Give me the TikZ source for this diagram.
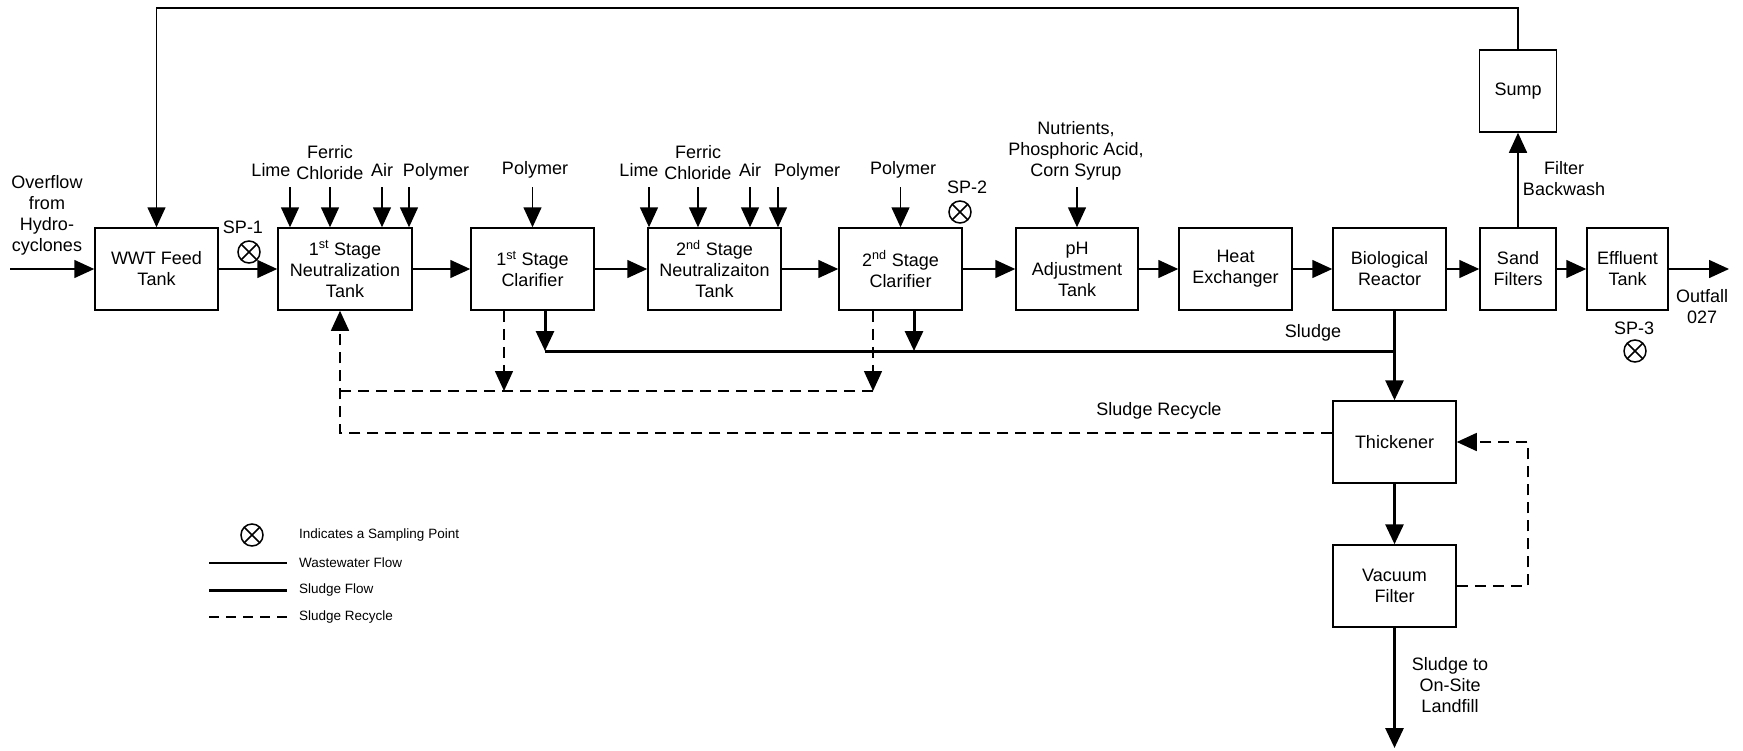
\documentclass[tikz,border=0pt]{standalone}
\usepackage{fontspec}
\setmainfont{Liberation Sans}
\usetikzlibrary{arrows.meta}
\begin{document}
\begin{tikzpicture}[x=1pt,y=-1pt,
 box/.style={draw, line width=1.5pt, minimum height=82pt, inner sep=0pt, align=center, font=\fontsize{18}{21}\selectfont},
 lbl/.style={inner sep=0pt, align=center, font=\fontsize{18}{21}\selectfont},
 leg/.style={inner sep=0pt, anchor=west, font=\fontsize{13.5}{15}\selectfont},
 wline/.style={line width=1.5pt},
 sline/.style={line width=3pt},
 rline/.style={line width=1.5pt, dash pattern=on 11pt off 7pt},
 arr/.style={-{Triangle[length=20pt,width=18pt]}},
 spsym/.style={draw, circle, line width=1.5pt, minimum size=22pt, inner sep=0pt,
   path picture={\draw[line width=1.5pt] (path picture bounding box.north west) -- (path picture bounding box.south east)
     (path picture bounding box.north east) -- (path picture bounding box.south west);}}
]
\useasboundingbox (0,0) rectangle (1743,750);

% ---- boxes
\node[box, minimum width=123pt] (wwt) at (156.5,269) {WWT Feed\\Tank};
\node[box, minimum width=134pt] (n1) at (345,269) {1\textsuperscript{st} Stage\\Neutralization\\Tank};
\node[box, minimum width=123pt] (c1) at (532.5,269) {1\textsuperscript{st} Stage\\Clarifier};
\node[box, minimum width=133pt] (n2) at (714.5,269) {2\textsuperscript{nd} Stage\\Neutralizaiton\\Tank};
\node[box, minimum width=123pt] (c2) at (900.5,269) {2\textsuperscript{nd} Stage\\Clarifier};
\node[box, minimum width=122pt] (ph) at (1077,269) {pH\\Adjustment\\Tank};
\node[box, minimum width=113pt] (hx) at (1235.5,269) {Heat\\Exchanger};
\node[box, minimum width=113pt] (bio) at (1389.5,269) {Biological\\Reactor};
\node[box, minimum width=76pt] (sand) at (1518,269) {Sand\\Filters};
\node[box, minimum width=81pt] (eff) at (1627.5,269) {Effluent\\Tank};
\node[box, minimum width=77pt] (sump) at (1518,91) {Sump};
\node[box, minimum width=123pt] (thk) at (1394.5,442) {Thickener};
\node[box, minimum width=123pt] (vac) at (1394.5,586) {Vacuum\\Filter};

% ---- main wastewater flow
\coordinate (in) at (10,269);
\coordinate (out) at (1729,269);
\draw[wline,arr] (in) -- (wwt.west);
\draw[wline,arr] (wwt.east) -- (n1.west);
\draw[wline,arr] (n1.east) -- (c1.west);
\draw[wline,arr] (c1.east) -- (n2.west);
\draw[wline,arr] (n2.east) -- (c2.west);
\draw[wline,arr] (c2.east) -- (ph.west);
\draw[wline,arr] (ph.east) -- (hx.west);
\draw[wline,arr] (hx.east) -- (bio.west);
\draw[wline,arr] (bio.east) -- (sand.west);
\draw[wline,arr] (sand.east) -- (eff.west);
\draw[wline,arr] (eff.east) -- (out);
\draw[wline,arr] (sand.north) -- (sump.south);
\coordinate (topy) at (0,8);
\draw[wline,arr] (sump.north) -- (sump.north |- topy) -| (wwt.north);

% ---- chemical inputs
\node[lbl, anchor=base] (lime1) at (271,176) {Lime};
\node[lbl] (fc1) at (330,162.5) {Ferric\\Chloride};
\node[lbl, anchor=base] (air1) at (382,176) {Air};
\node[lbl, anchor=base] (pol1) at (436,176) {Polymer};
\coordinate (a11) at (290,187);
\coordinate (a12) at (330,187);
\coordinate (a13) at (382,187);
\coordinate (a14) at (409,187);
\foreach \c in {a11,a12,a13,a14} \draw[wline,arr] (\c) -- (\c |- n1.north);

\node[lbl, anchor=base] (pol2) at (535,174) {Polymer};
\coordinate (a21) at (532.5,187);
\draw[wline,arr] (a21) -- (c1.north);

\node[lbl, anchor=base] (lime3) at (639,176) {Lime};
\node[lbl] (fc3) at (698,162.5) {Ferric\\Chloride};
\node[lbl, anchor=base] (air3) at (750,176) {Air};
\node[lbl, anchor=base] (pol3) at (807,176) {Polymer};
\coordinate (a31) at (649,187);
\coordinate (a32) at (698,187);
\coordinate (a33) at (750,187);
\coordinate (a34) at (778,187);
\foreach \c in {a31,a32,a33,a34} \draw[wline,arr] (\c) -- (\c |- n2.north);

\node[lbl, anchor=base] (pol4) at (903,174) {Polymer};
\coordinate (a41) at (900.5,187);
\draw[wline,arr] (a41) -- (c2.north);

\node[lbl] (nut) at (1076,151) {Nutrients,\\Phosphoric Acid,\\Corn Syrup};
\coordinate (a51) at (1077,187);
\draw[wline,arr] (a51) -- (ph.north);

% ---- sampling points
\node[lbl] (sp1t) at (243,227) {SP-1};
\node[spsym] (sp1) at (249,252) {};
\node[lbl] (sp2t) at (967,187) {SP-2};
\node[spsym] (sp2) at (960,212) {};
\node[lbl] (sp3t) at (1634,328) {SP-3};
\node[spsym] (sp3) at (1635,351) {};

% ---- other labels
\node[lbl] (ovf) at (47,215.5) {Overflow\\from\\Hydro-\\cyclones};
\node[lbl] (fbw) at (1564,178.5) {Filter\\Backwash};
\node[lbl] (outf) at (1702,307) {Outfall\\027};
\node[lbl] (slg) at (1313,333) {Sludge};
\node[lbl] (slr) at (1159,411) {Sludge Recycle};
\node[lbl] (land) at (1450,685) {Sludge to\\On-Site\\Landfill};

% ---- sludge flow
\coordinate (s1) at (545,351);
\coordinate (s2) at (914,351);
\coordinate (s3) at (1394.5,351);
\coordinate (lf) at (1394.5,748);
\draw[sline,arr] (s1 |- c1.south) -- (s1);
\draw[sline,arr] (s2 |- c2.south) -- (s2);
\draw[sline] (s1) -- (s3);
\draw[sline,arr] (s3 |- bio.south) -- (thk.north);
\draw[sline,arr] (thk.south) -- (vac.north);
\draw[sline,arr] (vac.south) -- (lf);

% ---- sludge recycle
\coordinate (d1) at (504,391);
\coordinate (d2) at (873,391);
\coordinate (r0) at (340,391);
\coordinate (r1) at (340,433);
\coordinate (rr) at (1528,442);
\draw[rline,arr] (d1 |- c1.south) -- (d1);
\draw[rline,arr] (d2 |- c2.south) -- (d2);
\draw[rline] (d2) -- (r0);
\draw[rline,arr] (thk.west |- r1) -- (r1) -- (r1 |- n1.south);
\draw[rline,arr] (vac.east) -| (rr) -- (thk.east);

% ---- legend
\node[spsym] (lg1) at (252,535) {};
\node[leg] (lt1) at (299,535) {Indicates a Sampling Point};
\coordinate (l2a) at (209,563); \coordinate (l2b) at (287,563);
\draw[line width=1.2pt] (l2a) -- (l2b);
\node[leg] (lt2) at (299,563) {Wastewater Flow};
\coordinate (l3a) at (209,590); \coordinate (l3b) at (287,590);
\draw[sline] (l3a) -- (l3b);
\node[leg] (lt3) at (299,590) {Sludge Flow};
\coordinate (l4a) at (209,617); \coordinate (l4b) at (287,617);
\draw[line width=2pt, dash pattern=on 10pt off 7pt] (l4a) -- (l4b);
\node[leg] (lt4) at (299,617) {Sludge Recycle};
\end{tikzpicture}
\end{document}
